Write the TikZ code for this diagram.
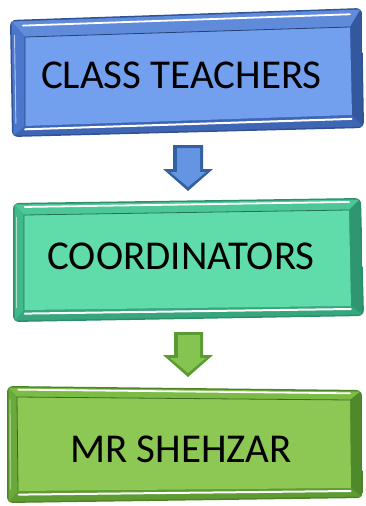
\documentclass[tikz,border=0pt]{standalone}
\usepackage{fontspec}
\setmainfont{Carlito}
\usetikzlibrary{calc}
\definecolor{bAedge}{HTML}{2F5293}
\definecolor{bAtop}{HTML}{5F8BDA}
\definecolor{bAleft}{HTML}{4B78CC}
\definecolor{bAright}{HTML}{34589E}
\definecolor{bAbot}{HTML}{3E66B4}
\definecolor{bAface}{HTML}{72A0EE}
\definecolor{bBedge}{HTML}{2C8F68}
\definecolor{bBtop}{HTML}{4CC797}
\definecolor{bBleft}{HTML}{40B888}
\definecolor{bBright}{HTML}{2E9670}
\definecolor{bBbot}{HTML}{36A67C}
\definecolor{bBface}{HTML}{60DCAB}
\definecolor{bCedge}{HTML}{4A8426}
\definecolor{bCtop}{HTML}{7BBB46}
\definecolor{bCleft}{HTML}{6AAA3A}
\definecolor{bCright}{HTML}{4E8A2C}
\definecolor{bCbot}{HTML}{5E9C33}
\definecolor{bCface}{HTML}{8CC853}
\definecolor{arAedge}{HTML}{34609F}
\definecolor{arAface}{HTML}{6495E2}
\definecolor{arBedge}{HTML}{5A9A30}
\definecolor{arBface}{HTML}{84C450}
\tikzset{lbl/.style={font=\fontsize{41}{44}\selectfont, text=black, inner sep=0pt, anchor=base}}
\newcommand\bevbox[2]{%
  \begin{scope}
    \clip[rounded corners=6pt] (#1otl) -- (#1otr) -- (#1obr) -- (#1obl) -- cycle;
    \fill[#2edge] (#1otl) -- (#1otr) -- (#1obr) -- (#1obl) -- cycle;
    \fill[#2top] ($(#1otl)+(1.5,1.5)$) -- ($(#1otr)+(-1.5,1.5)$) -- (#1itr) -- (#1itl) -- cycle;
    \fill[#2right] ($(#1otr)+(-1.5,1.5)$) -- ($(#1obr)+(-1.5,-1.5)$) -- (#1ibr) -- (#1itr) -- cycle;
    \fill[#2bot] ($(#1obr)+(-1.5,-1.5)$) -- ($(#1obl)+(1.5,-1.5)$) -- (#1ibl) -- (#1ibr) -- cycle;
    \fill[#2left] ($(#1obl)+(1.5,-1.5)$) -- ($(#1otl)+(1.5,1.5)$) -- (#1itl) -- (#1ibl) -- cycle;
  \end{scope}
  \fill[#2face] (#1itl) -- (#1itr) -- (#1ibr) -- (#1ibl) -- cycle;
  \draw[#2edge!80!black, line width=0.8pt] (#1ibl) -- (#1itl) -- (#1itr);
  \draw[white, line width=1.8pt, line cap=round]
    ($(#1otl)!0.33!(#1itl)+(8,0)$) -- ($(#1otr)!0.33!(#1itr)+(-8,0)$);
  \draw[white, line width=2pt, line cap=round]
    ($(#1ibl)!0.3!(#1obl)+(4,0)$) -- ($(#1ibr)!0.3!(#1obr)+(-4,0)$);
  \draw[white, line width=0.9pt, opacity=0.6]
    ($(#1otl)!0.3!(#1itl)+(0,10)$) -- ($(#1obl)!0.3!(#1ibl)+(0,-10)$);
}
\begin{document}
\begin{tikzpicture}[x=1pt,y=-1pt]
\useasboundingbox (0,0) rectangle (366,506);
% box 1 geometry
\coordinate (Aotl) at (10,20);  \coordinate (Aotr) at (362,8);
\coordinate (Aobr) at (364,128); \coordinate (Aobl) at (12,137);
\coordinate (Aitl) at (25,37);  \coordinate (Aitr) at (350,27);
\coordinate (Aibr) at (352,115); \coordinate (Aibl) at (25,126);
% box 2 geometry
\coordinate (Botl) at (13,203);  \coordinate (Botr) at (361,198);
\coordinate (Bobr) at (364,316); \coordinate (Bobl) at (13,322);
\coordinate (Bitl) at (24,215);  \coordinate (Bitr) at (349,210);
\coordinate (Bibr) at (351,306); \coordinate (Bibl) at (24,310);
% box 3 geometry
\coordinate (Cotl) at (7,386);   \coordinate (Cotr) at (362,390);
\coordinate (Cobr) at (363,498); \coordinate (Cobl) at (7,503);
\coordinate (Citl) at (17,397);  \coordinate (Citr) at (350,400);
\coordinate (Cibr) at (351,488); \coordinate (Cibl) at (18,491);
\bevbox{A}{bA}
\bevbox{B}{bB}
\bevbox{C}{bC}
\node[lbl] (teachers) at (181.5,88) {CLASS TEACHERS};
\node[lbl] (coord) at (181,269) {COORDINATORS};
\node[lbl] (shehzar) at (181,462) {MR SHEHZAR};
% block arrows
\coordinate (arA) at (188,145);
\coordinate (arB) at (188,332);
\fill[arAedge] ($(arA)+(-15,0)$) -- ($(arA)+(15,0)$) -- ($(arA)+(15,24)$) -- ($(arA)+(25,24)$) -- ($(arA)+(0,46)$) -- ($(arA)+(-25,24)$) -- ($(arA)+(-15,24)$) -- cycle;
\fill[arAface] ($(arA)+(-11,3)$) -- ($(arA)+(12,3)$) -- ($(arA)+(12,27)$) -- ($(arA)+(18,27)$) -- ($(arA)+(0,42)$) -- ($(arA)+(-18,27)$) -- ($(arA)+(-11,27)$) -- cycle;
\fill[arBedge] ($(arB)+(-14,0)$) -- ($(arB)+(15,0)$) -- ($(arB)+(15,23)$) -- ($(arB)+(25,23)$) -- ($(arB)+(0,45)$) -- ($(arB)+(-25,23)$) -- ($(arB)+(-14,23)$) -- cycle;
\fill[arBface] ($(arB)+(-10,3)$) -- ($(arB)+(12,3)$) -- ($(arB)+(12,26)$) -- ($(arB)+(18,26)$) -- ($(arB)+(0,41)$) -- ($(arB)+(-18,26)$) -- ($(arB)+(-10,26)$) -- cycle;
\end{tikzpicture}
\end{document}
